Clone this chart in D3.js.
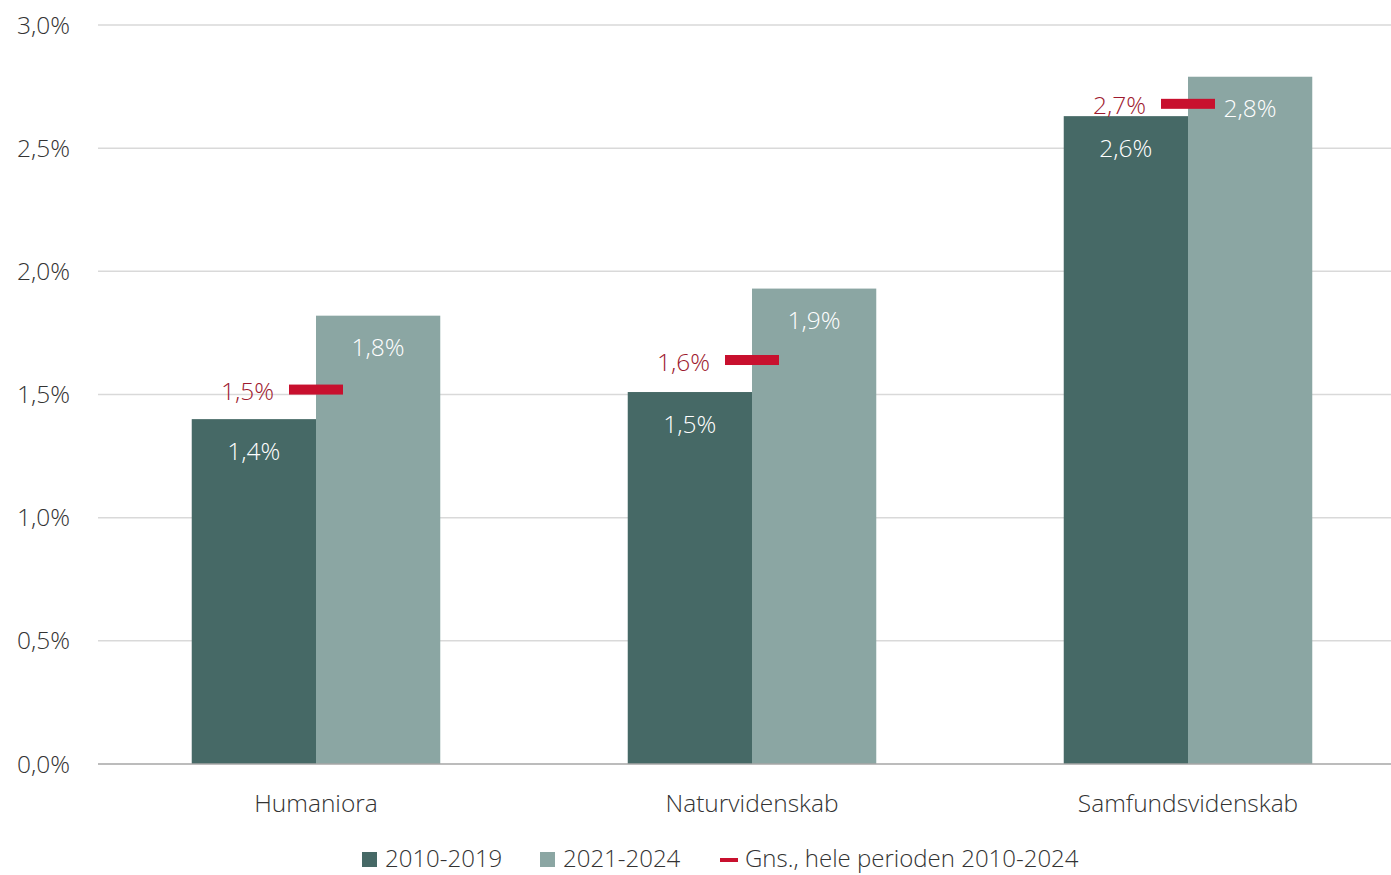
<!DOCTYPE html>
<html>
<head>
<meta charset="utf-8">
<script src="https://cdn.jsdelivr.net/npm/d3@7"></script>
<style>
  body { margin: 0; background: #fff; }
  text { font-family: "Open Sans", "Noto Sans", sans-serif; font-weight: 300; }
</style>
</head>
<body>
<div id="chart"></div>
<script>
var categories = ["Humaniora", "Naturvidenskab", "Samfundsvidenskab"];
var series = ["2010-2019", "2021-2024"];
var values2010 = [1.40, 1.51, 2.63];
var values2021 = [1.82, 1.93, 2.79];
var averages = [1.52, 1.64, 2.68];
var yTicks = [0, 0.5, 1.0, 1.5, 2.0, 2.5, 3.0];
var avgLabel = "Gns., hele perioden 2010-2024";

var W = 1391, H = 875;
var margin = { top: 25, left: 98, bottom: 111 },
  plotRight = 1391;

var colors = { "2010-2019": "#466966", "2021-2024": "#8ba6a3" };
var red = "#c8102e", redText = "#9e1a2f";

var fmt = function(v) { return v.toFixed(1).replace(".", ",") + "%"; };

var svg = d3.select("#chart").append("svg")
  .attr("width", W)
  .attr("height", H);

var y = d3.scaleLinear().domain([0, 3]).range([H - margin.bottom, margin.top]);

var x = d3.scaleBand()
  .domain(categories)
  .range([margin.left, margin.left + 3 * 436])
  .paddingInner(0.43)
  .paddingOuter(0.215);

var xs = d3.scaleBand().domain(series).range([0, x.bandwidth()]);

// gridlines
svg.append("g").selectAll("line")
  .data(yTicks.filter(function(d) { return d > 0; }))
  .enter().append("line")
  .attr("x1", margin.left).attr("x2", plotRight)
  .attr("y1", function(d) { return y(d); })
  .attr("y2", function(d) { return y(d); })
  .attr("stroke", "#d9d9d9")
  .attr("stroke-width", 1.5);

// y tick labels
svg.append("g").selectAll("text")
  .data(yTicks)
  .enter().append("text")
  .attr("x", 70)
  .attr("y", function(d) { return y(d); })
  .attr("dy", ".35em")
  .attr("text-anchor", "end")
  .attr("font-size", 24.5)
  .attr("fill", "#333")
  .text(fmt);

var rows = categories.map(function(c, i) {
  return { cat: c, vals: [values2010[i], values2021[i]], avg: averages[i] };
});

var group = svg.append("g").selectAll("g")
  .data(rows)
  .enter().append("g")
  .attr("transform", function(d) { return "translate(" + x(d.cat) + ",0)"; });

var bars = group.selectAll("g.bar")
  .data(function(d) {
    return series.map(function(s, j) { return { s: s, v: d.vals[j] }; });
  })
  .enter().append("g").attr("class", "bar");

bars.append("rect")
  .attr("x", function(d) { return xs(d.s); })
  .attr("width", xs.bandwidth())
  .attr("y", function(d) { return y(d.v); })
  .attr("height", function(d) { return y(0) - y(d.v); })
  .attr("fill", function(d) { return colors[d.s]; });

bars.append("text")
  .attr("x", function(d) { return xs(d.s) + xs.bandwidth() / 2; })
  .attr("y", function(d) { return y(d.v) + 32; })
  .attr("dy", ".35em")
  .attr("text-anchor", "middle")
  .attr("font-size", 24.5)
  .attr("fill", "#fff")
  .text(function(d) { return fmt(d.v); });

// average markers
group.append("rect")
  .attr("x", x.bandwidth() / 2 - 27)
  .attr("width", 54)
  .attr("y", function(d) { return y(d.avg) - 5; })
  .attr("height", 10)
  .attr("fill", red);

group.append("text")
  .attr("x", x.bandwidth() / 2 - 42)
  .attr("y", function(d) { return y(d.avg) + 2; })
  .attr("dy", ".35em")
  .attr("text-anchor", "end")
  .attr("font-size", 24.5)
  .attr("fill", redText)
  .text(function(d) { return fmt(d.avg); });

// baseline
svg.append("line")
  .attr("x1", margin.left).attr("x2", plotRight)
  .attr("y1", y(0)).attr("y2", y(0))
  .attr("stroke", "#a6a6a6")
  .attr("stroke-width", 1.5);

// category labels
svg.append("g").selectAll("text")
  .data(categories)
  .enter().append("text")
  .attr("x", function(d) { return x(d) + x.bandwidth() / 2; })
  .attr("y", 803)
  .attr("dy", ".35em")
  .attr("text-anchor", "middle")
  .attr("font-size", 24.5)
  .attr("fill", "#333")
  .text(function(d) { return d; });

// legend
var legend = svg.append("g").attr("transform", "translate(0,859)");
var items = [
  { label: series[0], color: colors[series[0]], x: 362, type: "box" },
  { label: series[1], color: colors[series[1]], x: 540, type: "box" },
  { label: avgLabel, color: red, x: 720, type: "dash" }
];
var li = legend.selectAll("g").data(items).enter().append("g")
  .attr("transform", function(d) { return "translate(" + d.x + ",0)"; });
li.append("rect")
  .attr("x", 0)
  .attr("y", function(d) { return d.type == "box" ? -7 : -1; })
  .attr("width", function(d) { return d.type == "box" ? 15 : 18; })
  .attr("height", function(d) { return d.type == "box" ? 15 : 4; })
  .attr("fill", function(d) { return d.color; });
li.append("text")
  .attr("x", function(d) { return d.type == "box" ? 23 : 25; })
  .attr("y", 0)
  .attr("dy", ".35em")
  .attr("font-size", 24)
  .attr("fill", "#333")
  .text(function(d) { return d.label; });
</script>
</body>
</html>
